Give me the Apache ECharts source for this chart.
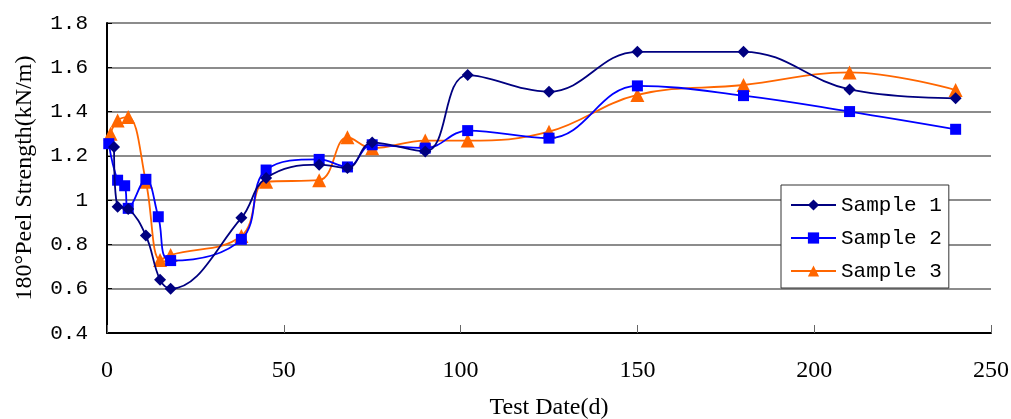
<!DOCTYPE html>
<html>
<head>
<meta charset="utf-8">
<script src="https://cdn.jsdelivr.net/npm/echarts@6/dist/echarts.min.js"></script>
<style>
html,body{margin:0;padding:0;background:#fff;}
#chart{width:1011px;height:419px;}
</style>
</head>
<body>
<div id="chart"></div>
<script>
const seriesNames = ['Sample 1', 'Sample 2', 'Sample 3'];
const sample1Days = [2, 3, 6, 11, 15, 18, 38, 45, 60, 68, 75, 90, 102, 125, 150, 180, 210, 240];
const sample1Values = [1.24, 0.97, 0.96, 0.84, 0.64, 0.60, 0.92, 1.10, 1.16, 1.145, 1.26, 1.22, 1.565, 1.49, 1.67, 1.67, 1.50, 1.46];
const sample2Days = [0.5, 3, 5, 6, 11, 14.5, 18, 38, 45, 60, 68, 75, 90, 102, 125, 150, 180, 210, 240];
const sample2Values = [1.255, 1.09, 1.065, 0.963, 1.094, 0.925, 0.727, 0.823, 1.136, 1.184, 1.15, 1.25, 1.235, 1.314, 1.28, 1.516, 1.472, 1.40, 1.32];
const sample3Days = [1, 3, 6, 11, 15, 18, 38, 45, 60, 68, 75, 90, 102, 125, 150, 180, 210, 240];
const sample3Values = [1.30, 1.36, 1.375, 1.083, 0.73, 0.752, 0.838, 1.083, 1.09, 1.284, 1.234, 1.269, 1.269, 1.309, 1.475, 1.52, 1.577, 1.497];
const yTicks = [0.4, 0.6, 0.8, 1, 1.2, 1.4, 1.6, 1.8];
const xTicks = [0, 50, 100, 150, 200, 250];

const zip = (d, v) => d.map((x, i) => [x, v[i]]);
const colors = ['#000080', '#0000FF', '#FF6600'];
const symbols = ['diamond', 'rect', 'triangle'];
const symbolSizes = [12, 11, 14];
const datasets = [zip(sample1Days, sample1Values), zip(sample2Days, sample2Values), zip(sample3Days, sample3Values)];

const chart = echarts.init(document.getElementById('chart'), null, {renderer: 'canvas'});
chart.setOption({
  animation: false,
  backgroundColor: '#ffffff',
  grid: {left: 107, right: 20, top: 23, bottom: 86, containLabel: false, outerBoundsMode: 'none'},
  legend: {
    orient: 'vertical',
    left: 781,
    top: 185,
    padding: [9, 7, 6, 9],
    backgroundColor: '#ffffff',
    borderColor: '#333333',
    borderWidth: 1,
    borderRadius: 0,
    itemWidth: 45,
    itemHeight: 14,
    itemGap: 11,
    textStyle: {fontFamily: 'Liberation Mono', fontSize: 21, color: '#000', lineHeight: 22, padding: [0, 0, 0, 0]},
    data: seriesNames
  },
  xAxis: {
    type: 'value',
    min: xTicks[0],
    max: xTicks[xTicks.length - 1],
    interval: 50,
    name: 'Test Date(d)',
    nameLocation: 'middle',
    nameGap: 63,
    nameTextStyle: {fontFamily: 'Liberation Serif', fontSize: 24, color: '#000'},
    axisLine: {show: true, onZero: false, lineStyle: {color: '#000', width: 2}},
    axisTick: {show: true, inside: true, length: 8, lineStyle: {color: '#666', width: 1}},
    axisLabel: {fontFamily: 'Liberation Serif', fontSize: 24, color: '#000', margin: 26},
    splitLine: {show: false}
  },
  yAxis: {
    type: 'value',
    min: yTicks[0],
    max: yTicks[yTicks.length - 1],
    interval: 0.2,
    name: '180°Peel Strength(kN/m)',
    nameLocation: 'middle',
    nameGap: 70,
    nameTextStyle: {fontFamily: 'Liberation Serif', fontSize: 24, color: '#000'},
    axisLine: {show: true, lineStyle: {color: '#000', width: 2}},
    axisTick: {show: true, inside: true, length: 5, lineStyle: {color: '#000', width: 1}},
    axisLabel: {fontFamily: 'Liberation Mono', fontSize: 21, color: '#000', margin: 19},
    splitLine: {show: true, lineStyle: {color: '#666', width: 1.5}}
  },
  series: seriesNames.map((name, i) => ({
    name: name,
    type: 'line',
    data: datasets[i],
    smooth: 0.4,
    symbol: symbols[i],
    symbolSize: symbolSizes[i],
    showAllSymbol: true,
    itemStyle: {color: colors[i], borderWidth: 0},
    lineStyle: {color: colors[i], width: 1.8},
    z: 3 + (2 - i)
  }))
});
</script>
</body>
</html>
